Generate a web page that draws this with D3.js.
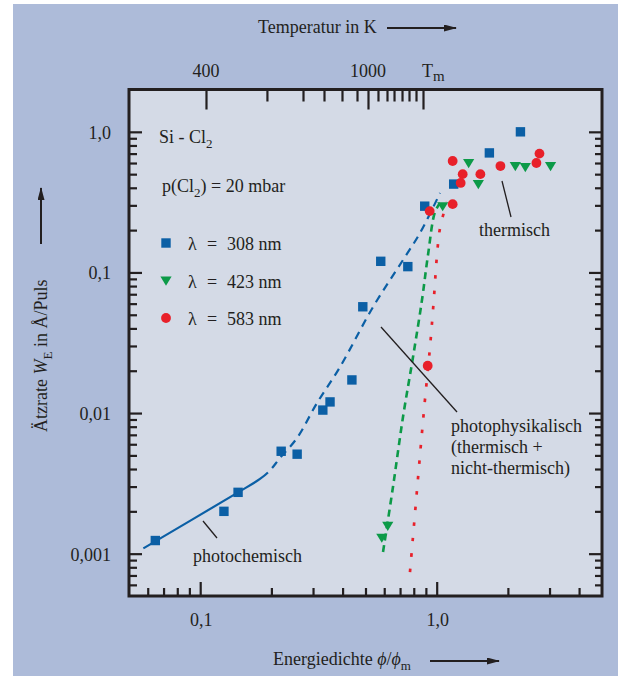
<!DOCTYPE html>
<html><head><meta charset="utf-8">
<script src="https://cdn.jsdelivr.net/npm/d3@7/dist/d3.min.js"></script>
<style>
body{margin:0;background:#fff}
svg{display:block}
text{font-family:"Liberation Serif","Times New Roman",serif;fill:#231f20}
</style>
</head><body>
<svg id="c" width="625" height="676"></svg>
<script>
// ---- data ----
const bluePhi = [0.0646,0.126,0.1446,0.22,0.257,0.330,0.354,0.438,0.487,0.58,0.755,0.89,1.18,1.67,2.26];
const blueV   = [0.00124,0.0020,0.00273,0.00535,0.0051,0.0105,0.012,0.0172,0.057,0.12,0.110,0.296,0.425,0.708,1.0];
const greenPhi = [0.586,0.621,1.06,1.365,1.50,2.15,2.37,3.03];
const greenV   = [0.0013,0.00158,0.296,0.60,0.425,0.571,0.562,0.571];
const redPhi = [0.916,0.934,1.168,1.168,1.288,1.263,1.53,1.86,2.64,2.72];
const redV   = [0.0217,0.273,0.306,0.62,0.50,0.433,0.50,0.571,0.60,0.70];

// blue fit: solid part up to blueSolidEnd, dashed beyond
const blueFitPhi = [0.0575,0.1446,0.179,0.197,0.2175,0.2566,0.3118,0.390,0.538,0.7203,0.850,1.033];
const blueFitV   = [0.00109,0.00273,0.0034,0.0039,0.00479,0.00664,0.01179,0.02125,0.0568,0.1226,0.1908,0.367];
const blueSolidEnd = 0.1935;
const greenFitPhi = [0.593,0.6533,0.7203,0.7941,0.8666,0.9188,0.9835,1.033];
const greenFitV   = [0.001027,0.002977,0.00937,0.02503,0.0637,0.133,0.269,0.3116];
const redFitPhi = [0.771,0.8255,0.8837,0.937,0.974,1.003,1.033,1.105];
const redFitV   = [0.00074,0.002835,0.01051,0.02948,0.0669,0.133,0.207,0.317];

const xTickValues = [0.1,1];
const xTickLabels = ["0,1","1,0"];
const yTickValues = [0.001,0.01,0.1,1];
const yTickLabels = ["0,001","0,01","0,1","1,0"];
const tempTicks   = [400,500,600,700,800,900,1000,1100,1200,1300,1400,1500,1600,1685];
const tempTickPhi = [0.1058,0.1915,0.2721,0.3338,0.3977,0.4603,0.5123,0.5646,0.6164,0.6601,0.7135,0.7637,0.8176,0.8752];
const tempMajor = [400,1000,1685];
const tempLabels = ["400","1000"];

const legendItems = [
  {shape:"square", color:"#0b5fa5", nm:"308 nm"},
  {shape:"triangle", color:"#0c9a48", nm:"423 nm"},
  {shape:"circle", color:"#e8202a", nm:"583 nm"}
];

// ---- drawing ----
const svg = d3.select("#c");
const BLUE="#0b5fa5", GREEN="#0c9a48", RED="#e8202a", INK="#231f20";

svg.append("rect").attr("x",13).attr("y",4).attr("width",605).attr("height",672).attr("fill","#adbbd9");

const x = d3.scaleLog().domain([0.05,5]).range([129,602]);
const y = d3.scaleLog().domain([0.0005,2]).range([596,89.5]);
const L=129,R=602,T=89.5,B=596;

svg.append("rect").attr("x",L).attr("y",T).attr("width",R-L).attr("height",B-T).attr("fill","#d4dae6");

// minor tick values
const xMinor=[], yMinor=[];
[0.01,0.1,1].forEach(d=>{for(let k=2;k<=9;k++){const v=d*k; if(v>0.05&&v<5) xMinor.push(v);}});
[0.0001,0.001,0.01,0.1,1].forEach(d=>{for(let k=2;k<=9;k++){const v=d*k; if(v>0.0005&&v<2) yMinor.push(v);}});

function styleAxis(g){g.select(".domain").remove(); g.selectAll("line").attr("stroke",INK).attr("stroke-width",2.2);}
svg.append("g").attr("transform",`translate(0,${B})`).call(d3.axisTop(x).tickValues(xMinor).tickSize(8).tickFormat("")).call(styleAxis);
svg.append("g").attr("transform",`translate(0,${B})`).call(d3.axisTop(x).tickValues(xTickValues).tickSize(14).tickFormat("")).call(styleAxis);
svg.append("g").attr("transform",`translate(${L},0)`).call(d3.axisRight(y).tickValues(yMinor).tickSize(8).tickFormat("")).call(styleAxis);
svg.append("g").attr("transform",`translate(${L},0)`).call(d3.axisRight(y).tickValues(yTickValues).tickSize(13).tickFormat("")).call(styleAxis);
svg.append("g").attr("transform",`translate(${R},0)`).call(d3.axisLeft(y).tickValues(yMinor).tickSize(7).tickFormat("")).call(styleAxis);
svg.append("g").attr("transform",`translate(${R},0)`).call(d3.axisLeft(y).tickValues(yTickValues).tickSize(13).tickFormat("")).call(styleAxis);
const tScale = d3.scaleLinear().domain(tempTicks).range(tempTickPhi.map(p=>x(p)));
svg.append("g").attr("transform",`translate(0,${T})`).call(d3.axisBottom(tScale).tickValues(tempTicks.filter(t=>!tempMajor.includes(t))).tickSize(12).tickFormat("")).call(styleAxis);
svg.append("g").attr("transform",`translate(0,${T})`).call(d3.axisBottom(tScale).tickValues(tempMajor).tickSize(20).tickFormat("")).call(styleAxis);

const lab = svg.append("g").attr("font-size",18);
lab.selectAll(".yl").data(yTickValues).join("text").attr("x",111).attr("y",d=>y(d)+7).attr("text-anchor","end").text((d,i)=>yTickLabels[i]);
lab.selectAll(".xl").data(xTickValues).join("text").attr("x",d=>x(d)+1).attr("y",626).attr("text-anchor","middle").text((d,i)=>xTickLabels[i]);
lab.selectAll(".tl").data(tempMajor.slice(0,2)).join("text").attr("x",d=>tScale(d)).attr("y",77).attr("text-anchor","middle").text((d,i)=>tempLabels[i]);
const tm = lab.append("text").attr("x",tScale(1685)-1).attr("y",77);
tm.append("tspan").text("T");
tm.append("tspan").attr("font-size",15).attr("dy",4).text("m");

svg.append("rect").attr("x",L).attr("y",T).attr("width",R-L).attr("height",B-T).attr("fill","none").attr("stroke",INK).attr("stroke-width",3);

// fit lines
const line = d3.line().x(d=>x(d[0])).y(d=>y(d[1])).curve(d3.curveCatmullRom);
const zip=(a,b)=>a.map((v,i)=>[v,b[i]]);
const bp = svg.append("path").attr("d",line(zip(blueFitPhi,blueFitV))).attr("fill","none").attr("stroke",BLUE).attr("stroke-width",2.2);
{
  const node = bp.node(), total = node.getTotalLength(), xe = x(blueSolidEnd);
  let lo=0, hi=total;
  for(let k=0;k<40;k++){const m=(lo+hi)/2; if(node.getPointAtLength(m).x<xe) lo=m; else hi=m;}
  const arr=[lo,6]; let acc=lo+6; while(acc<total+20){arr.push(8,6); acc+=14;}
  bp.attr("stroke-dasharray",arr.join(","));
}
svg.append("path").attr("d",line(zip(greenFitPhi,greenFitV))).attr("fill","none").attr("stroke",GREEN).attr("stroke-width",2.6).attr("stroke-dasharray","7,5");
svg.append("path").attr("d",line(zip(redFitPhi,redFitV))).attr("fill","none").attr("stroke",RED).attr("stroke-width",2.7).attr("stroke-dasharray","3.5,12");

const ann = [[203,521,217,538],[502,181,511,217],[381,327,457,412]];
svg.selectAll(".ld").data(ann).join("line").attr("x1",d=>d[0]).attr("y1",d=>d[1]).attr("x2",d=>d[2]).attr("y2",d=>d[3]).attr("stroke",INK).attr("stroke-width",1.3);

function marker(sel, shape, color){
  if(shape==="square") sel.append("rect").attr("x",-4.7).attr("y",-4.7).attr("width",9.4).attr("height",9.4).attr("fill",color);
  else if(shape==="circle") sel.append("circle").attr("r",4.9).attr("fill",color);
  else sel.append("path").attr("d","M-5.6,-4L5.6,-4L0,5.2Z").attr("fill",color);
}
function series(px,py,shape,color){
  const g=svg.append("g");
  zip(px,py).forEach(d=>{ marker(g.append("g").attr("transform",`translate(${x(d[0])},${y(d[1])})`), shape, color); });
}
series(bluePhi,blueV,"square",BLUE);
series(greenPhi,greenV,"triangle",GREEN);
series(redPhi,redV,"circle",RED);

const t1 = svg.append("text").attr("x",159).attr("y",143).attr("font-size",18);
t1.append("tspan").text("Si - Cl"); t1.append("tspan").attr("font-size",13).attr("dy",5).text("2");
const t2 = svg.append("text").attr("x",162).attr("y",192).attr("font-size",18);
t2.append("tspan").text("p(Cl"); t2.append("tspan").attr("font-size",13).attr("dy",5).text("2");
t2.append("tspan").attr("dy",-5).text(") = 20 mbar");
legendItems.forEach((it,i)=>{
  const cy = 243 + i*37.5;
  marker(svg.append("g").attr("transform",`translate(166,${cy})`), it.shape, it.color);
  const t = svg.append("text").attr("y",cy+7).attr("font-size",18);
  t.append("tspan").attr("x",188).text("λ");
  t.append("tspan").attr("x",207).text("=");
  t.append("tspan").attr("x",227).text(it.nm);
});
svg.append("text").attr("x",193).attr("y",562).attr("font-size",18).text("photochemisch");
svg.append("text").attr("x",479).attr("y",236).attr("font-size",18).text("thermisch");
["photophysikalisch","(thermisch +","nicht-thermisch)"].forEach((s,i)=>
  svg.append("text").attr("x",451).attr("y",432+i*21).attr("font-size",18).text(s));

svg.append("defs").append("marker").attr("id","ah").attr("viewBox","0 0 13 7").attr("refX",12).attr("refY",3.5)
  .attr("markerWidth",13).attr("markerHeight",7).attr("markerUnits","userSpaceOnUse").attr("orient","auto")
  .append("path").attr("d","M0,0L13,3.5L0,7Z").attr("fill",INK);
svg.append("text").attr("x",258).attr("y",33).attr("font-size",18).text("Temperatur in K");
svg.append("line").attr("x1",387).attr("y1",28).attr("x2",456).attr("y2",28).attr("stroke",INK).attr("stroke-width",2).attr("marker-end","url(#ah)");

const xt = svg.append("text").attr("x",273).attr("y",665).attr("font-size",18);
xt.append("tspan").text("Energiedichte ");
xt.append("tspan").attr("font-style","italic").text("ϕ");
xt.append("tspan").text("/");
xt.append("tspan").attr("font-style","italic").text("ϕ");
xt.append("tspan").attr("font-size",13).attr("dy",5).text("m");
svg.append("line").attr("x1",430).attr("y1",661).attr("x2",499).attr("y2",661).attr("stroke",INK).attr("stroke-width",2).attr("marker-end","url(#ah)");

const yt = svg.append("text").attr("transform","translate(47,432) rotate(-90)").attr("font-size",18);
yt.append("tspan").text("Ätzrate ");
yt.append("tspan").attr("font-style","italic").text("W");
yt.append("tspan").attr("font-size",13).attr("dy",5).text("E");
yt.append("tspan").attr("dy",-5).text(" in Å/Puls");
svg.append("line").attr("x1",41).attr("y1",244).attr("x2",41).attr("y2",188).attr("stroke",INK).attr("stroke-width",2).attr("marker-end","url(#ah)");
</script>
</body></html>
